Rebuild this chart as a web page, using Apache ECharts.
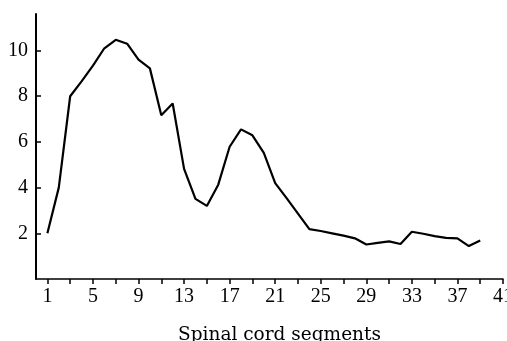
<!DOCTYPE html>
<html>
<head>
<meta charset="utf-8">
<script src="https://cdn.jsdelivr.net/npm/echarts@6/dist/echarts.min.js"></script>
<style>
  html, body { margin: 0; padding: 0; background: #fff; }
  #chart { width: 507px; height: 341px; }
</style>
</head>
<body>
<div id="chart"></div>
<script>
const segments = [1, 2, 3, 4, 5, 6, 7, 8, 9, 10, 11, 12, 13, 14, 15, 16, 17, 18, 19, 20,
  21, 22, 23, 24, 25, 26, 27, 28, 29, 30, 31, 32, 33, 34, 35, 36, 37, 38, 39];
const values = [2.0, 4.0, 8.0, 8.65, 9.34, 10.1, 10.47, 10.3, 9.6, 9.22, 7.17, 7.68, 4.82, 3.51, 3.2, 4.13, 5.79, 6.55, 6.29, 5.52,
  4.2, 3.54, 2.86, 2.18, 2.1, 2.0, 1.9, 1.78, 1.51, 1.58, 1.65, 1.53, 2.07, 1.98, 1.88, 1.8, 1.78, 1.44, 1.69];

const xLabels = [1, 5, 9, 13, 17, 21, 25, 29, 33, 37, 41];
const xTicks = [1, 3, 5, 7, 9, 11, 13, 15, 17, 19, 21, 23, 25, 27, 29, 31, 33, 35, 37, 39, 41];
const yLabels = [2, 4, 6, 8, 10];

const font = 'Liberation Serif';

const chart = echarts.init(document.getElementById('chart'));
chart.setOption({
  animation: false,
  grid: { left: 36, right: 4, top: 14, bottom: 62, outerBoundsMode: 'none' },
  xAxis: {
    type: 'value', min: 0, max: 41,
    name: 'Spinal cord segments', nameLocation: 'middle', nameGap: 47,
    nameTextStyle: { fontFamily: 'DejaVu Serif', fontSize: 18.5, color: '#000', padding: [0, 0, 0, 20] },
    axisLine: { lineStyle: { color: '#000', width: 1.5 } },
    axisTick: { customValues: xTicks, length: 5, inside: false, lineStyle: { color: '#000', width: 1.5 } },
    axisLabel: { customValues: xLabels, margin: 8, fontFamily: font, fontSize: 20, color: '#000' },
    splitLine: { show: false },
  },
  yAxis: {
    type: 'value', min: 0, max: 11.6,
    axisLine: { show: true, lineStyle: { color: '#000', width: 2 } },
    axisTick: { customValues: yLabels, length: 5, inside: true, lineStyle: { color: '#000', width: 1.5 } },
    axisLabel: { customValues: yLabels, margin: 8, fontFamily: font, fontSize: 20, color: '#000' },
    splitLine: { show: false },
  },
  series: [{
    type: 'line',
    data: segments.map((s, i) => [s, values[i]]),
    symbol: 'none',
    lineStyle: { color: '#000', width: 2.2 },
  }],
});
</script>
</body>
</html>
